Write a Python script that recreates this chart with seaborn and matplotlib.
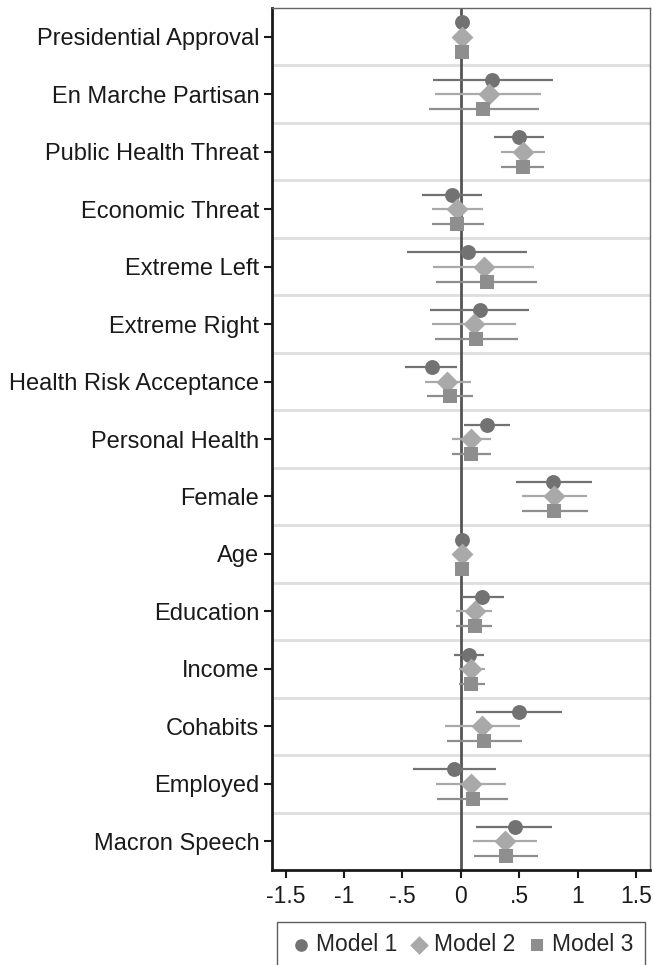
import seaborn as sns
import matplotlib.pyplot as plt
import numpy as np
import pandas as pd

variables = ["Presidential Approval", "En Marche Partisan", "Public Health Threat",
             "Economic Threat", "Extreme Left", "Extreme Right", "Health Risk Acceptance",
             "Personal Health", "Female", "Age", "Education", "Income", "Cohabits",
             "Employed", "Macron Speech"]

m1_coef = [0.01, 0.27, 0.50, -0.08, 0.06, 0.16, -0.25, 0.22, 0.79, 0.01, 0.18, 0.07, 0.50, -0.06, 0.46]
m1_lo = [-0.03, -0.24, 0.28, -0.33, -0.46, -0.26, -0.48, 0.03, 0.47, 0.0, 0.01, -0.06, 0.13, -0.41, 0.13]
m1_hi = [0.05, 0.79, 0.71, 0.18, 0.57, 0.58, -0.03, 0.42, 1.12, 0.02, 0.37, 0.20, 0.87, 0.30, 0.78]

m2_coef = [0.01, 0.24, 0.53, -0.03, 0.20, 0.11, -0.12, 0.09, 0.80, 0.01, 0.12, 0.09, 0.18, 0.09, 0.38]
m2_lo = [0.0, -0.22, 0.34, -0.25, -0.24, -0.25, -0.31, -0.08, 0.52, 0.0, -0.04, -0.02, -0.14, -0.21, 0.10]
m2_hi = [0.02, 0.69, 0.72, 0.19, 0.63, 0.47, 0.09, 0.26, 1.08, 0.02, 0.27, 0.21, 0.51, 0.39, 0.65]

m3_coef = [0.01, 0.19, 0.53, -0.03, 0.22, 0.13, -0.09, 0.09, 0.80, 0.01, 0.12, 0.09, 0.20, 0.10, 0.39]
m3_lo = [0.0, -0.27, 0.34, -0.25, -0.21, -0.22, -0.29, -0.08, 0.52, 0.0, -0.04, -0.02, -0.12, -0.20, 0.11]
m3_hi = [0.02, 0.67, 0.71, 0.20, 0.65, 0.49, 0.10, 0.26, 1.09, 0.02, 0.27, 0.21, 0.52, 0.40, 0.66]

models = ["Model 1", "Model 2", "Model 3"]
colors = {"Model 1": "#727272", "Model 2": "#a9a9a9", "Model 3": "#8e8e8e"}
markers = {"Model 1": "o", "Model 2": "D", "Model 3": "s"}
sizes = {"Model 1": 115, "Model 2": 125, "Model 3": 110}
offsets = {"Model 1": -0.25, "Model 2": 0.0, "Model 3": 0.26}

rows = []
for m, (c, lo, hi) in zip(models, [(m1_coef, m1_lo, m1_hi), (m2_coef, m2_lo, m2_hi), (m3_coef, m3_lo, m3_hi)]):
    for i, v in enumerate(variables):
        rows.append({"var": v, "model": m, "coef": c[i], "lo": lo[i], "hi": hi[i],
                     "pos": i + offsets[m]})
df = pd.DataFrame(rows)

sns.set_style("white")
plt.rcParams['font.family'] = ['Liberation Sans', 'DejaVu Sans']

fig = plt.figure(figsize=(6.53, 9.65), dpi=100)
ax = fig.add_axes([0.416, 0.0984, 0.5795, 0.8933])

# separators between variables
for i in range(len(variables) - 1):
    ax.axhline(i + 0.5, color="#dedede", lw=2, zorder=0)
ax.axvline(0, color="#555555", lw=2, zorder=1)

for m in models:
    d = df[df.model == m]
    ax.hlines(d["pos"], d["lo"], d["hi"], color=colors[m], lw=1.6, zorder=2)
    sns.scatterplot(data=d, x="coef", y="pos", marker=markers[m], color=colors[m],
                    s=sizes[m], linewidth=0, ax=ax, zorder=3, label=m)

ax.set_xlim(-1.62, 1.62)
ax.set_ylim(len(variables) - 0.5, -0.5)
ax.set_yticks(range(len(variables)))
ax.set_yticklabels(variables)
ax.set_xticks([-1.5, -1, -0.5, 0, 0.5, 1, 1.5])
ax.set_xticklabels(["-1.5", "-1", "-.5", "0", ".5", "1", "1.5"])
ax.set_xlabel("")
ax.set_ylabel("")
ax.tick_params(axis="both", labelsize=16.5, colors="#1a1a1a", length=6, width=1.5,
               direction="out", left=True, bottom=True)
ax.tick_params(axis="x", pad=5)
ax.tick_params(axis="y", pad=3, labelsize=17)

for s in ["left", "bottom"]:
    ax.spines[s].set_color("#1a1a1a")
    ax.spines[s].set_linewidth(2)
for s in ["top", "right"]:
    ax.spines[s].set_color("#666666")
    ax.spines[s].set_linewidth(1)

leg = ax.legend(loc="upper center", bbox_to_anchor=(0.5, -0.06), ncol=3,
                fontsize=16.5, frameon=True, fancybox=False, handletextpad=0.1,
                columnspacing=0.4, borderpad=0.5, borderaxespad=0, handlelength=1.1,
                markerscale=0.85)
leg.get_frame().set_edgecolor("#333333")
leg.get_frame().set_linewidth(1)

fig.savefig("out.png", dpi=100)
